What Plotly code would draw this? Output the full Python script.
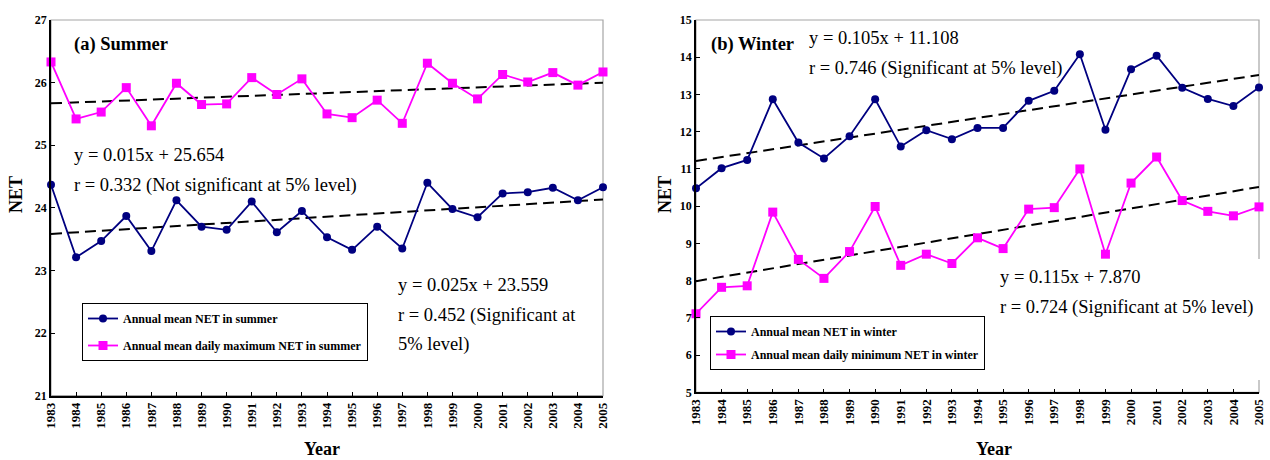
import plotly.graph_objects as go

# ---------------- data ----------------
years = [1983, 1984, 1985, 1986, 1987, 1988, 1989, 1990, 1991, 1992, 1993, 1994,
         1995, 1996, 1997, 1998, 1999, 2000, 2001, 2002, 2003, 2004, 2005]
year_labels = [str(y) for y in years]

summer_mean = [24.37, 23.21, 23.47, 23.87, 23.31, 24.12, 23.70, 23.65, 24.10, 23.61, 23.95, 23.53,
               23.33, 23.70, 23.35, 24.40, 23.98, 23.85, 24.23, 24.25, 24.32, 24.12, 24.33]
summer_max = [26.33, 25.42, 25.53, 25.92, 25.31, 25.99, 25.65, 25.66, 26.08, 25.81, 26.06, 25.50,
              25.44, 25.72, 25.35, 26.31, 25.99, 25.74, 26.13, 26.01, 26.16, 25.96, 26.17]
winter_mean = [10.48, 11.02, 11.24, 12.87, 11.71, 11.28, 11.88, 12.87, 11.60, 12.04, 11.80, 12.10,
               12.10, 12.83, 13.10, 14.08, 12.05, 13.68, 14.04, 13.18, 12.88, 12.69, 13.19]
winter_min = [7.11, 7.82, 7.86, 9.84, 8.57, 8.06, 8.78, 9.99, 8.41, 8.71, 8.46, 9.15,
              8.86, 9.92, 9.96, 11.00, 8.71, 10.62, 11.32, 10.15, 9.86, 9.74, 9.98]

# trend line end points (from the printed equations, x = 1 .. 23)
trend_years = [1983, 2005]
summer_mean_trend = [23.584, 24.134]
summer_max_trend = [25.669, 25.999]
winter_mean_trend = [11.213, 13.523]
winter_min_trend = [7.985, 10.515]

# ---------------- styling ----------------
W, H = 1270, 460
FONT = "Liberation Serif"
NAVY = "#000080"
MAG = "#FF00FF"


def px(x, y):
    """page pixel -> paper fraction"""
    return x / W, 1 - y / H


fig = go.Figure()


def add_series(x, y, color, symbol, size, name, xa, ya, legend, group):
    fig.add_trace(go.Scatter(
        x=x, y=y, mode="lines+markers", name=name,
        line=dict(color=color, width=1.8),
        marker=dict(color=color, symbol=symbol, size=size),
        xaxis=xa, yaxis=ya, legend=legend, legendgroup=group,
        cliponaxis=False))


def add_trend(y, xa, ya):
    fig.add_trace(go.Scatter(
        x=trend_years, y=y, mode="lines", showlegend=False,
        line=dict(color="black", width=2, dash="11px,6px"),
        xaxis=xa, yaxis=ya, hoverinfo="skip"))


add_trend(summer_max_trend, "x", "y")
add_trend(summer_mean_trend, "x", "y")
add_series(years, summer_mean, NAVY, "circle", 8, "Annual mean NET in summer", "x", "y", "legend", "a1")
add_series(years, summer_max, MAG, "square", 9, "Annual mean daily maximum NET in summer", "x", "y", "legend", "a2")

add_trend(winter_mean_trend, "x2", "y2")
add_trend(winter_min_trend, "x2", "y2")
add_series(years, winter_mean, NAVY, "circle", 8, "Annual mean NET in winter", "x2", "y2", "legend2", "b1")
add_series(years, winter_min, MAG, "square", 9, "Annual mean daily minimum NET in winter", "x2", "y2", "legend2", "b2")

xcommon = dict(range=[1983, 2005], tickmode="array", tickvals=years, ticktext=year_labels,
               tickangle=-90, ticks="inside", ticklen=4, tickcolor="black", tickwidth=1,
               showline=True, linecolor="black", linewidth=1.5, showgrid=False, zeroline=False,
               automargin=False,
               tickfont=dict(family=FONT, size=13, color="black", weight="bold"))
ycommon = dict(dtick=1, ticks="inside", ticklen=4, tickcolor="black", tickwidth=1,
               showline=True, linecolor="black", linewidth=1.5, showgrid=False, zeroline=False,
               automargin=False,
               tickfont=dict(family=FONT, size=12, color="black", weight="bold"))

lx0, _ = px(51, 0)
lx1, _ = px(603, 0)
rx0, _ = px(696, 0)
rx1, _ = px(1259, 0)
_, ly0 = px(0, 395.7)
_, ry0 = px(0, 392.3)
_, yt = px(0, 20)

fig.update_layout(
    width=W, height=H, margin=dict(l=0, r=0, t=0, b=0, autoexpand=False),
    paper_bgcolor="white", plot_bgcolor="white",
    font=dict(family=FONT, color="black"),
    xaxis=dict(domain=[lx0, lx1], anchor="y", **xcommon),
    yaxis=dict(domain=[ly0, yt], anchor="x", range=[21, 27], **ycommon),
    xaxis2=dict(domain=[rx0, rx1], anchor="y2", **xcommon),
    yaxis2=dict(domain=[ry0, yt], anchor="x2", range=[5, 15], **ycommon),
    legend=dict(x=px(82, 0)[0], y=px(0, 303)[1], xanchor="left", yanchor="top",
                bordercolor="black", borderwidth=1, bgcolor="white",
                font=dict(family=FONT, size=12, color="black", weight="bold"),
                tracegroupgap=8, itemwidth=30),
    legend2=dict(x=px(710, 0)[0], y=px(0, 316)[1], xanchor="left", yanchor="top",
                 bordercolor="black", borderwidth=1, bgcolor="white",
                 font=dict(family=FONT, size=12, color="black", weight="bold"),
                 tracegroupgap=4, itemwidth=30),
    showlegend=True,
)

# grey plot-area borders
for xa, ya in (("x", "y"), ("x2", "y2")):
    fig.add_shape(type="rect", xref=f"{xa} domain", yref=f"{ya} domain",
                  x0=0, x1=1, y0=0, y1=1, line=dict(color="#a6a6a6", width=1.2),
                  layer="below")

# white text box covering part of the right border (as in reference)
bx0, by1 = px(1000, 259)
bx1, by0 = px(1265, 380)
fig.add_shape(type="rect", xref="paper", yref="paper", x0=bx0, x1=bx1, y0=by0, y1=by1,
              fillcolor="white", line=dict(width=0), layer="above")

texts = [
    ("<b>(a) Summer</b>", 72, 45),
    ("y = 0.015x + 25.654", 72, 155),
    ("r = 0.332 (Not significant at 5% level)", 72, 185),
    ("y = 0.025x + 23.559", 396, 285),
    ("r = 0.452 (Significant at", 396, 315),
    ("5% level)", 396, 344),
    ("<b>(b) Winter</b>", 709, 45),
    ("y = 0.105x + 11.108", 807, 38),
    ("r = 0.746 (Significant at 5% level)", 807, 68),
    ("y = 0.115x + 7.870", 998, 277),
    ("r = 0.724 (Significant at 5% level)", 998, 307),
]
for t, x, y in texts:
    ax, ay = px(x, y)
    fig.add_annotation(text=t, x=ax, y=ay, xref="paper", yref="paper",
                       xanchor="left", yanchor="middle", showarrow=False,
                       font=dict(family=FONT, size=18.5, color="black"))

# axis titles
for t, x, y, ang in (("<b>NET</b>", 16, 195, -90), ("<b>NET</b>", 665, 195, -90),
                     ("<b>Year</b>", 322, 449, 0), ("<b>Year</b>", 994, 449, 0)):
    ax, ay = px(x, y)
    fig.add_annotation(text=t, x=ax, y=ay, xref="paper", yref="paper",
                       xanchor="center", yanchor="middle", showarrow=False, textangle=ang,
                       font=dict(family=FONT, size=18, color="black"))

fig.write_html("out.html", config={"displayModeBar": False},
               post_script="document.body.style.margin='0';document.body.style.overflow='hidden';")
